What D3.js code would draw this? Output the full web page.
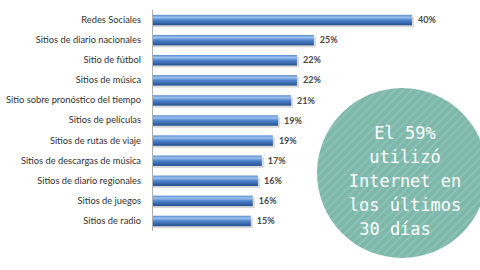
<!DOCTYPE html>
<html>
<head>
<meta charset="utf-8">
<script src="https://cdn.jsdelivr.net/npm/d3@7"></script>
<style>
  body { margin: 0; background: #fff; }
  svg { display: block; }
</style>
</head>
<body>
<div id="chart"></div>
<script>
// data
var categories = ["Redes Sociales", "Sitios de diario nacionales", "Sitio de fútbol", "Sitios de música",
  "Sitio sobre pronóstico del tiempo", "Sitios de películas", "Sitios de rutas de viaje",
  "Sitios de descargas de música", "Sitios de diario regionales", "Sitios de juegos", "Sitios de radio"];
var values = [40, 24.9, 22.3, 22.3, 21.4, 19.4, 18.6, 16.9, 16.3, 15.5, 15.2];
var valueLabels = ["40%", "25%", "22%", "22%", "21%", "19%", "19%", "17%", "16%", "16%", "15%"];
var calloutLines = ["El 59%", "utilizó", "Internet en", "los últimos", "30 días"];

var width = 480, height = 270;
var margin = {top: 10, left: 152};

var svg = d3.select("#chart").append("svg")
  .attr("width", width)
  .attr("height", height);

var defs = svg.append("defs");

// cylinder-ish bar gradient
var grad = defs.append("linearGradient")
  .attr("id", "barGrad")
  .attr("x1", 0).attr("y1", 0).attr("x2", 0).attr("y2", 1);
grad.append("stop").attr("offset", "0%").attr("stop-color", "#5d8fd0");
grad.append("stop").attr("offset", "25%").attr("stop-color", "#9cc0ee");
grad.append("stop").attr("offset", "50%").attr("stop-color", "#4f84cc");
grad.append("stop").attr("offset", "100%").attr("stop-color", "#24508f");

// striped fill for the circle
var pat = defs.append("pattern")
  .attr("id", "stripes")
  .attr("patternUnits", "userSpaceOnUse")
  .attr("width", 6).attr("height", 6)
  .attr("patternTransform", "rotate(45)");
pat.append("rect").attr("width", 6).attr("height", 6).attr("fill", "#7eb8aa");
pat.append("rect").attr("width", 2).attr("height", 6).attr("fill", "#8cc2b5");

var x = d3.scaleLinear()
  .domain([0, 40])
  .range([margin.left, 412]);

var y = d3.scaleBand()
  .domain(categories)
  .range([margin.top, 231])
  .paddingInner(0.48)
  .paddingOuter(0.24);

// shadows
svg.append("g").selectAll("rect")
  .data(values)
  .enter()
  .append("rect")
    .attr("x", x(0))
    .attr("y", function(d, i) { return y(categories[i]) + 2; })
    .attr("width", function(d) { return x(d) - x(0) + 2; })
    .attr("height", y.bandwidth())
    .attr("fill", "#c8c8c8")
    .attr("opacity", 0.7);

// bars
svg.append("g").selectAll("rect")
  .data(values)
  .enter()
  .append("rect")
    .attr("x", x(0))
    .attr("y", function(d, i) { return y(categories[i]); })
    .attr("width", function(d) { return x(d) - x(0); })
    .attr("height", y.bandwidth())
    .attr("fill", "url(#barGrad)");

// value labels
svg.append("g").selectAll("text")
  .data(values)
  .enter()
  .append("text")
    .attr("x", function(d) { return x(d) + 6; })
    .attr("y", function(d, i) { return y(categories[i]) + y.bandwidth() / 2; })
    .attr("dy", "0.35em")
    .style("font-family", "Lato, sans-serif")
    .style("font-size", "9px")
    .style("font-weight", "bold")
    .style("fill", "#484848")
    .text(function(d, i) { return valueLabels[i]; });

// y axis (line only, labels)
var yAxis = svg.append("g")
  .attr("transform", "translate(" + margin.left + ",0)")
  .call(d3.axisLeft(y).tickSize(0).tickPadding(11));
yAxis.select(".domain").attr("stroke", "#b0b0b0").attr("d", "M0.5," + 10 + "V" + 231);
yAxis.selectAll("text")
  .style("font-family", "Lato, sans-serif")
  .style("font-size", "9.3px")
  .style("fill", "#303030");

// callout circle
var callout = svg.append("g");
callout.append("circle")
  .attr("cx", 402)
  .attr("cy", 173)
  .attr("r", 85)
  .attr("fill", "url(#stripes)");

callout.selectAll("text")
  .data(calloutLines)
  .enter()
  .append("text")
    .attr("x", function(d, i) { return i == 4 ? 395 : 405; })
    .attr("y", function(d, i) { return 139 + i * 24; })
    .attr("text-anchor", "middle")
    .style("font-family", "'DejaVu Sans Mono', monospace")
    .style("font-size", "17px")
    .style("fill", "#ffffff")
    .text(function(d) { return d; });
</script>
</body>
</html>
